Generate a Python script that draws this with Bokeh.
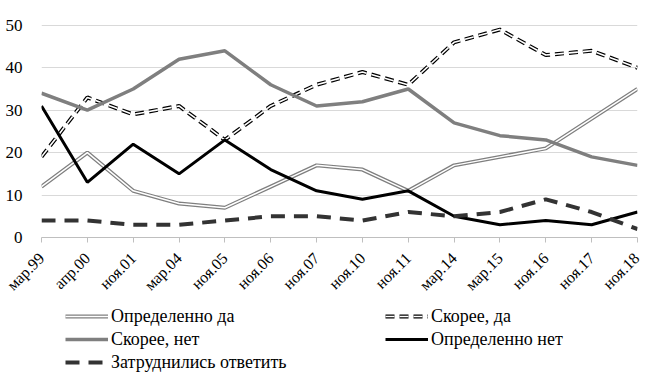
from bokeh.plotting import figure
from bokeh.models import Range1d, FixedTicker, Legend, LegendItem
from bokeh.layouts import column
from bokeh.embed import file_html
from bokeh.resources import INLINE
from math import pi

labels = ["мар.99", "апр.00", "ноя.01", "мар.04", "ноя.05", "ноя.06", "ноя.07",
          "ноя.10", "ноя.11", "мар.14", "мар.15", "ноя.16", "ноя.17", "ноя.18"]
def_yes = [12, 20, 11, 8, 7, 12, 17, 16, 11, 17, 19, 21, 28, 35]
rather_yes = [19, 33, 29, 31, 23, 31, 36, 39, 36, 46, 49, 43, 44, 40]
rather_no = [34, 30, 35, 42, 44, 36, 31, 32, 35, 27, 24, 23, 19, 17]
def_no = [31, 13, 22, 15, 23, 16, 11, 9, 11, 5, 3, 4, 3, 6]
hard = [4, 4, 3, 3, 4, 5, 5, 4, 6, 5, 6, 9, 6, 2]
y_ticks = [0, 10, 20, 30, 40, 50]
series_names = ["Определенно да", "Скорее, да", "Скорее, нет",
                "Определенно нет", "Затруднились ответить"]

x = list(range(len(labels)))
FONT = "Liberation Serif"

STYLES = {
    "dy_o": dict(line_color="#7f7f7f", line_width=4),
    "dy_i": dict(line_color="white", line_width=1.5),
    "ry_o": dict(line_color="black", line_width=4, line_dash="9 5"),
    "ry_i": dict(line_color="white", line_width=1.6, line_dash="9 5"),
    "rn": dict(line_color="#7f7f7f", line_width=3.5),
    "dn": dict(line_color="black", line_width=3),
    "h": dict(line_color="#333333", line_width=4, line_dash="14 9"),
}

p = figure(width=642, height=302, output_backend="svg", toolbar_location=None,
           x_range=Range1d(0, len(labels) - 1), y_range=Range1d(0, 50.2),
           min_border_left=41, min_border_top=24, min_border_right=5, min_border_bottom=65)
p.outline_line_color = None
p.background_fill_color = "white"

p.xaxis.ticker = FixedTicker(ticks=x)
p.xaxis.major_label_overrides = {i: l for i, l in enumerate(labels)}
p.xaxis.major_label_orientation = pi / 4
p.xaxis.major_label_text_font = FONT
p.xaxis.major_label_text_font_size = "16px"
p.xaxis.major_label_text_color = "black"
p.xaxis.axis_line_color = "#bfbfbf"
p.xaxis.major_tick_line_color = "#bfbfbf"
p.xaxis.major_tick_in = 0
p.xaxis.major_tick_out = 5
p.xaxis.major_label_standoff = 13
p.xaxis.minor_tick_line_color = None
p.xgrid.grid_line_color = None

p.yaxis.ticker = FixedTicker(ticks=y_ticks)
p.yaxis.axis_line_color = None
p.yaxis.major_tick_line_color = None
p.yaxis.minor_tick_line_color = None
p.yaxis.major_label_standoff = 13
p.yaxis.major_label_text_font = FONT
p.yaxis.major_label_text_font_size = "17px"
p.yaxis.major_label_text_color = "black"
p.ygrid.grid_line_color = "#d9d9d9"
p.ygrid.grid_line_width = 1

p.line(x, def_yes, **STYLES["dy_o"])
p.line(x, def_yes, **STYLES["dy_i"])
p.line(x, rather_yes, **STYLES["ry_o"])
p.line(x, rather_yes, **STYLES["ry_i"])
p.line(x, rather_no, **STYLES["rn"])
p.line(x, def_no, **STYLES["dn"])
p.line(x, hard, **STYLES["h"])

# legend figure (its proxy lines lie outside the visible range)
lg = figure(width=642, height=76, output_backend="svg", toolbar_location=None,
            x_range=Range1d(0, 1), y_range=Range1d(0, 1),
            min_border_left=41, min_border_right=5, min_border_top=0, min_border_bottom=0)
lg.axis.visible = False
lg.grid.visible = False
lg.outline_line_color = None
px, py = [5, 6], [5, 5]
l_dy_o = lg.line(px, py, **STYLES["dy_o"])
l_dy_i = lg.line(px, py, **STYLES["dy_i"])
l_ry_o = lg.line(px, py, **STYLES["ry_o"])
l_ry_i = lg.line(px, py, **STYLES["ry_i"])
l_rn = lg.line(px, py, **STYLES["rn"])
l_dn = lg.line(px, py, **STYLES["dn"])
l_h = lg.line(px, py, **STYLES["h"])


def make_legend(items, loc):
    leg = Legend(items=items)
    leg.label_text_font = FONT
    leg.label_text_font_size = "18px"
    leg.label_text_color = "black"
    leg.label_height = 22
    leg.glyph_width = 43
    leg.glyph_height = 22
    leg.label_standoff = 3
    leg.spacing = 1
    leg.padding = 0
    leg.margin = 0
    leg.border_line_color = None
    leg.background_fill_alpha = 0
    leg.location = loc
    lg.add_layout(leg, "center")


make_legend([
    LegendItem(label=series_names[0], renderers=[l_dy_o, l_dy_i]),
    LegendItem(label=series_names[2], renderers=[l_rn]),
    LegendItem(label=series_names[4], renderers=[l_h]),
], (24, 5))
make_legend([
    LegendItem(label=series_names[1], renderers=[l_ry_o, l_ry_i]),
    LegendItem(label=series_names[3], renderers=[l_dn]),
], (344, 28))

open("out.html", "w").write(file_html(column(p, lg), INLINE))
